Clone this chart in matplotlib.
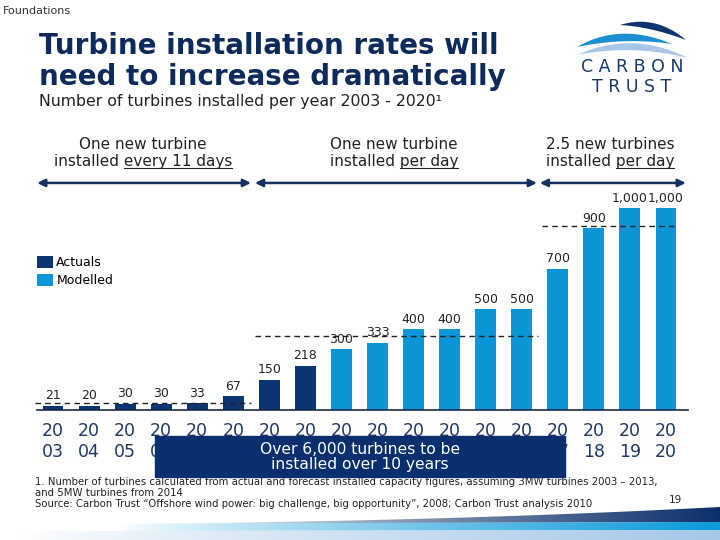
import numpy as np
import matplotlib.pyplot as plt
from matplotlib.patches import Polygon, Rectangle
from matplotlib.colors import to_rgb

# data
years = [str(y) for y in range(2003, 2021)]
actuals = [21, 20, 30, 30, 33, 67, 150, 218]            # 2003-2010
modelled = [300, 333, 400, 400, 500, 500, 700, 900, 1000, 1000]  # 2011-2020
rate_levels = [33, 365, 912]   # 1 every 11 days, 1 per day, 2.5 per day
rate_spans = [(-0.5, 5.5), (5.6, 13.45), (13.55, 17.3)]
arrow_spans = [(-0.44, 5.49), (5.6, 13.42), (13.5, 17.55)]

NAVY = "#0A3572"
BLUE = "#0A96D6"
TITLE = "#0D2A5C"
TICK = "#1E3A66"
TXT = "#222222"

fig = plt.figure(figsize=(7.2, 5.4), dpi=100)

# chart axes, baseline at y=410px, 1000 at y=208px
ax = fig.add_axes([37 / 720, 130 / 540, (688 - 37) / 720, 202 / 540])
x = np.arange(len(years))
n = len(actuals)
b1 = ax.bar(x[:n], actuals, width=0.58, color=NAVY, label="Actuals")
b2 = ax.bar(x[n:], modelled, width=0.58, color=BLUE, label="Modelled")
ax.set_xlim(-0.444, 17.61)
ax.set_ylim(0, 1000)

for xi, v in zip(x, actuals + modelled):
    ax.annotate(f"{v:,}", (xi, v), xytext=(0, 2.5), textcoords="offset points",
                ha="center", va="bottom", fontsize=9, color=TXT,
                annotation_clip=False)

# rate lines
for lvl, (x0, x1) in zip(rate_levels, rate_spans):
    ax.plot([x0, x1], [lvl, lvl], ls=(0, (4, 3)), color="#222222", lw=1,
            clip_on=False, zorder=3)

# arrows above the chart
for x0, x1 in arrow_spans:
    ax.annotate("", xy=(x0, 1124), xytext=(x1, 1124), annotation_clip=False,
                arrowprops=dict(arrowstyle="<|-|>,head_length=0.45,head_width=0.22",
                                color="#13305E", lw=1.8, shrinkA=0, shrinkB=0))

for s in ["top", "left", "right"]:
    ax.spines[s].set_visible(False)
ax.spines["bottom"].set_color("#1A2A4A")
ax.spines["bottom"].set_linewidth(1.2)
ax.set_yticks([])
ax.set_xticks(x, [y[:2] + "\n" + y[2:] for y in years])
ax.tick_params(axis="x", length=0, pad=9, labelsize=12.5, labelcolor=TICK)

fig.legend(handles=[b1, b2], loc="upper left",
           bbox_to_anchor=(37 / 720, 1 - 256 / 540), frameon=False,
           fontsize=9, handlelength=1.25, handleheight=1.1, handletextpad=0.3,
           labelspacing=0.4, borderpad=0, borderaxespad=0)

# overlay in pixel coordinates for text / decoration
ov = fig.add_axes([0, 0, 1, 1])
ov.set_xlim(0, 720)
ov.set_ylim(540, 0)
ov.axis("off")

ov.text(3, 11, "Foundations", fontsize=8, color="#333333", va="center")
ov.text(39, 54, "Turbine installation rates will", fontsize=20,
        fontweight="bold", color=TITLE, va="baseline")
ov.text(39, 85, "need to increase dramatically", fontsize=20,
        fontweight="bold", color=TITLE, va="baseline")
ov.text(39, 106, "Number of turbines installed per year 2003 - 2020\u00b9",
        fontsize=11.3, color=TXT, va="baseline")

renderer = fig.canvas.get_renderer()


def header(cx, line1, pre, und):
    ov.text(cx, 149, line1, fontsize=11, color=TXT, ha="center", va="baseline")
    t = ov.text(cx, 166, pre + und, fontsize=11, color=TXT, ha="center",
                va="baseline")
    bb = t.get_window_extent(renderer)
    tmp = ov.text(0, 0, und, fontsize=11)
    w = tmp.get_window_extent(renderer).width
    tmp.remove()
    ov.plot([bb.x1 - w, bb.x1], [168, 168], color=TXT, lw=0.8)


header(143, "One new turbine", "installed ", "every 11 days")
header(394, "One new turbine", "installed ", "per day")
header(610, "2.5 new turbines", "installed ", "per day")

# callout box
ov.add_patch(Rectangle((155, 436), 410, 41, color="#0A2F6E", zorder=5))
ov.text(360, 449, "Over 6,000 turbines to be", fontsize=11.2, color="white",
        ha="center", va="center", zorder=6)
ov.text(360, 465, "installed over 10 years", fontsize=11.2, color="white",
        ha="center", va="center", zorder=6)

# footnotes
ov.text(35, 482, "1. Number of turbines calculated from actual and forecast installed "
        "capacity figures, assuming 3MW turbines 2003 \u2013 2013,",
        fontsize=7.3, color=TXT, va="center")
ov.text(35, 493, "and 5MW turbines from 2014", fontsize=7.3, color=TXT, va="center")
ov.text(35, 504, "Source: Carbon Trust \u201cOffshore wind power: big challenge, big "
        "opportunity\u201d, 2008; Carbon Trust analysis 2010",
        fontsize=7.3, color=TXT, va="center")
ov.text(675, 500, "19", fontsize=7.5, color=TXT, ha="center", va="center")


# logo
def bez(p0, c, p1, k=30):
    t = np.linspace(0, 1, k)[:, None]
    return (1 - t) ** 2 * np.array(p0) + 2 * (1 - t) * t * np.array(c) + t ** 2 * np.array(p1)


def crescent(p0, cu, cl, p1, color):
    pts = np.vstack([bez(p0, cu, p1), bez(p1, cl, p0)])
    ov.add_patch(Polygon(pts, closed=True, color=color, lw=0))


crescent((620, 25), (655, 14), (652, 27), (686, 40), "#0E3470")
crescent((577, 47), (620, 22), (625, 37), (672, 44), "#1B8FCF")
crescent((577, 55), (632, 30), (632, 44), (688, 58), "#A9C6E6")
ov.text(632, 67, "C A R B O N", fontsize=12.5, color="#17386B", ha="center",
        va="center")
ov.text(632, 87, "T R U S T", fontsize=12.5, color="#17386B", ha="center",
        va="center")


# bottom swoosh with fading gradient
def band(xs, top, bot, color, x_start):
    pts = np.vstack([np.column_stack([xs, top]), np.column_stack([xs[::-1], bot[::-1]])])
    poly = Polygon(pts, closed=True, facecolor="none", edgecolor="none")
    ov.add_patch(poly)
    grad = np.clip((np.linspace(0, 720, 256) - x_start) / (720 - x_start), 0, 1) ** 0.8
    img = np.zeros((1, 256, 4))
    img[..., :3] = to_rgb(color)
    img[..., 3] = grad
    im = ov.imshow(img, extent=(0, 720, 540, 500), aspect="auto", zorder=2)
    im.set_clip_path(poly)


xs = np.linspace(0, 720, 200)
t = xs / 720
navy_top = 524 - 17 * t ** 2.2
navy_bot = 524 - 2 * t
mid_bot = 531 - 1 * t
band(xs, navy_top, navy_bot, "#0B2F6B", 180)
band(xs, navy_bot, mid_bot, "#0A9AD9", 120)
band(xs, mid_bot, np.full_like(xs, 541), "#A6C8E8", 20)
ov.set_xlim(0, 720)
ov.set_ylim(540, 0)

fig.savefig("out.png", dpi=100)
